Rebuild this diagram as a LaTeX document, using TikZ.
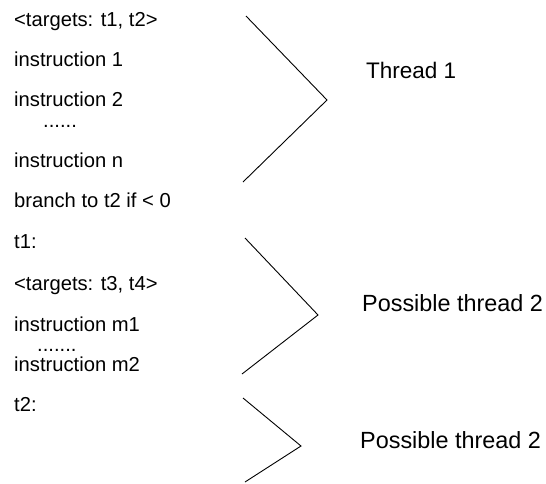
\documentclass[tikz,border=0pt]{standalone}
\usepackage{fontspec}
\setmainfont{Liberation Sans}
\begin{document}
\begin{tikzpicture}[x=1pt,y=-1pt,
  code/.style={anchor=base west,inner sep=0pt,font=\fontsize{20.2}{23}\selectfont},
  label/.style={anchor=base west,inner sep=0pt,font=\fontsize{22.5}{26}\selectfont},
  longlabel/.style={label,font=\fontsize{23.4}{27}\selectfont},
  brace/.style={line width=0.9pt,line join=miter}]
  \useasboundingbox (0,0) rectangle (546,483);
  % instruction listing
  \node[code] (tg1) at (14,26) {<targets: t1, t2>};
  \node[code] (i1)  at (14,66) {instruction 1};
  \node[code] (i2)  at (14,106) {instruction 2};
  \node[code] (d1)  at (43,127) {......};
  \node[code] (in)  at (14,167) {instruction n};
  \node[code] (br)  at (14,207) {branch to t2 if < 0};
  \node[code] (t1)  at (14,248) {t1:};
  \node[code] (tg2) at (14,290) {<targets: t3, t4>};
  \node[code] (m1)  at (14,331) {instruction m1};
  \node[code] (d2)  at (37,351) {.......};
  \node[code] (m2)  at (14,371) {instruction m2};
  \node[code] (t2)  at (14,411) {t2:};
  % thread labels
  \node[label] (th1) at (366,78) {Thread 1};
  \node[longlabel] (th2) at (362,311) {Possible thread 2};
  \node[longlabel] (th3) at (360,448) {Possible thread 2};
  % angle brackets grouping the listing into threads
  \draw[brace] (246,16) -- (327,100) -- (243,182);
  \draw[brace] (245,238) -- (318,315) -- (242,374);
  \draw[brace] (243,398) -- (301,446) -- (245,482);
\end{tikzpicture}
\end{document}
